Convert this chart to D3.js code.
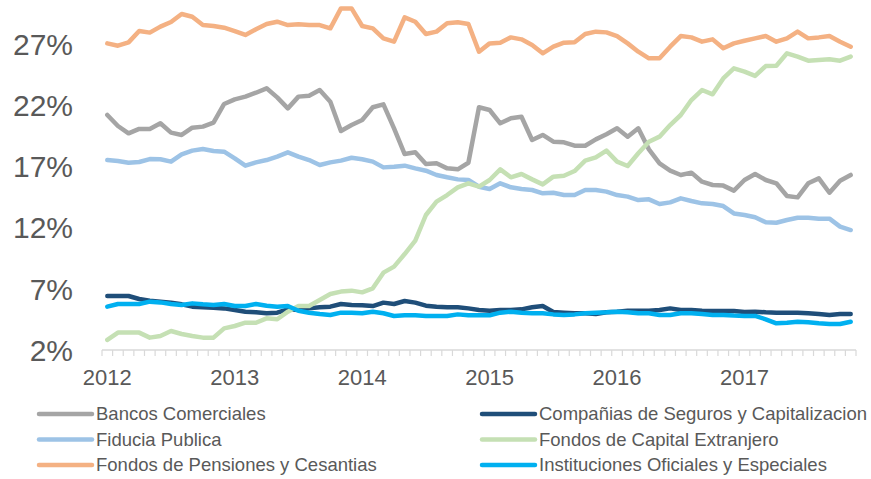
<!DOCTYPE html>
<html>
<head>
<meta charset="utf-8">
<script src="https://cdn.jsdelivr.net/npm/d3@7"></script>
<style>
  body { margin: 0; background: #fff; }
  svg { font-family: "Liberation Sans", Arial, sans-serif; }
</style>
</head>
<body>
<svg id="chart" width="871" height="479"></svg>
<script>
// monthly shares (%), Jan 2012 .. Nov 2017
let years = ["2012", "2013", "2014", "2015", "2016", "2017"];
let yTicks = [2, 7, 12, 17, 22, 27];

let bancos = [21.2, 20.3, 19.7, 20.06, 20.06, 20.52, 19.76, 19.57, 20.16, 20.25, 20.57, 22.1, 22.48, 22.7, 23.02, 23.38, 22.64, 21.74,
    22.7, 22.78, 23.24, 22.29, 19.89, 20.38, 20.79, 21.83, 22.07, 20.11, 18.01, 18.15, 17.2, 17.25, 16.84, 16.76, 17.3, 21.83,
    21.61, 20.52, 20.93, 21.06, 19.16, 19.57, 19.02, 18.97, 18.69, 18.69, 19.21, 19.62, 20.11, 19.43, 20.11, 18.39, 17.25, 16.65,
    16.3, 16.49, 15.75, 15.48, 15.43, 15.02, 15.89, 16.38, 15.89, 15.62, 14.58, 14.47, 15.62, 16.02, 14.85, 15.83, 16.3];
let companias = [6.41, 6.41, 6.41, 6.17, 6.03, 5.95, 5.87, 5.73, 5.54, 5.49, 5.46, 5.4, 5.27, 5.13, 5.08, 5.0, 5.05, 5.32,
    5.27, 5.4, 5.49, 5.54, 5.76, 5.68, 5.65, 5.59, 5.87, 5.76, 6.0, 5.87, 5.62, 5.54, 5.49, 5.49, 5.4, 5.27,
    5.21, 5.27, 5.27, 5.32, 5.49, 5.59, 5.1, 5.05, 5.0, 5.0, 4.94, 5.08, 5.13, 5.21, 5.21, 5.21, 5.27, 5.4,
    5.27, 5.27, 5.21, 5.19, 5.19, 5.19, 5.1, 5.13, 5.08, 5.05, 5.05, 5.05, 5.0, 4.94, 4.86, 4.94, 4.94];
let fiducia = [17.52, 17.44, 17.3, 17.36, 17.6, 17.58, 17.39, 17.99, 18.29, 18.42, 18.26, 18.2, 17.66, 17.06, 17.33, 17.52, 17.8, 18.15,
    17.8, 17.52, 17.11, 17.33, 17.47, 17.71, 17.58, 17.39, 16.92, 16.98, 17.06, 16.84, 16.65, 16.3, 16.11, 15.94, 15.89, 15.34,
    15.15, 15.62, 15.29, 15.15, 15.07, 14.8, 14.85, 14.66, 14.66, 15.07, 15.07, 14.94, 14.66, 14.53, 14.25, 14.31, 13.93, 14.06,
    14.39, 14.17, 13.98, 13.93, 13.76, 13.16, 13.03, 12.84, 12.43, 12.4, 12.62, 12.81, 12.81, 12.73, 12.73, 12.08, 11.8];
let extranjero = [2.82, 3.42, 3.42, 3.42, 3.01, 3.14, 3.55, 3.31, 3.14, 3.01, 3.01, 3.77, 3.96, 4.23, 4.23, 4.59, 4.51, 5.13,
    5.59, 5.59, 6.08, 6.58, 6.77, 6.85, 6.71, 7.04, 8.32, 8.81, 9.84, 10.93, 13.03, 14.12, 14.66, 15.29, 15.62, 15.34,
    15.89, 16.76, 16.11, 16.38, 15.94, 15.53, 16.16, 16.24, 16.62, 17.47, 17.74, 18.29, 17.39, 17.03, 18.07, 19.02, 19.43, 20.38,
    21.2, 22.42, 23.24, 22.89, 24.19, 25.01, 24.74, 24.39, 25.2, 25.23, 26.24, 25.97, 25.64, 25.69, 25.75, 25.64, 25.97];
let pensiones = [27.05, 26.86, 27.13, 28.06, 27.93, 28.42, 28.8, 29.45, 29.23, 28.55, 28.47, 28.33, 28.06, 27.74, 28.2, 28.63, 28.82, 28.55,
    28.61, 28.55, 28.55, 28.28, 29.91, 29.91, 28.47, 28.28, 27.46, 27.19, 29.18, 28.82, 27.82, 28.01, 28.69, 28.77, 28.63, 26.37,
    27.05, 27.11, 27.54, 27.38, 26.92, 26.24, 26.78, 27.11, 27.14, 27.82, 28.01, 27.95, 27.65, 27.05, 26.37, 25.83, 25.83, 26.78,
    27.65, 27.54, 27.19, 27.38, 26.65, 27.05, 27.27, 27.46, 27.65, 27.19, 27.46, 28.01, 27.46, 27.54, 27.65, 27.19, 26.78];
let instituciones = [5.54, 5.76, 5.76, 5.76, 5.95, 5.89, 5.76, 5.68, 5.81, 5.73, 5.68, 5.76, 5.6, 5.6, 5.76, 5.62, 5.54, 5.6,
    5.21, 5.05, 4.94, 4.86, 5.05, 5.05, 5.0, 5.13, 5.0, 4.78, 4.83, 4.83, 4.78, 4.78, 4.78, 4.91, 4.83, 4.83,
    4.83, 5.05, 5.13, 5.05, 5.0, 5.0, 4.91, 4.86, 4.91, 5.0, 5.05, 5.08, 5.13, 5.08, 5.0, 5.0, 4.86, 4.86,
    5.0, 5.0, 4.94, 4.86, 4.86, 4.81, 4.78, 4.78, 4.51, 4.18, 4.23, 4.31, 4.26, 4.18, 4.12, 4.12, 4.31];

let seriesNames = ["Bancos Comerciales", "Compañias de Seguros y Capitalizacion", "Fiducia Publica",
    "Fondos de Capital Extranjero", "Fondos de Pensiones y Cesantias", "Instituciones Oficiales y Especiales"];
let seriesValues = [bancos, companias, fiducia, extranjero, pensiones, instituciones];
let colors = ["#a5a5a5", "#1f4e79", "#9dc3e6", "#c5e0b4", "#f4b183", "#00b0f0"];

let svg = d3.select("#chart");

let months = d3.range(bancos.length);
let x = d3.scaleBand()
    .domain(months)
    .range([102, 856])
    .padding(0);
let y = d3.scaleLinear()
    .domain([2, 27])
    .range([350, 44]);

function xc(i) {
    return x(i) + x.bandwidth() / 2;
}

// y labels (no axis line)
svg.append("g")
    .selectAll("text")
    .data(yTicks)
    .enter().append("text")
    .attr("x", 73)
    .attr("y", d => y(d))
    .attr("dy", "0.36em")
    .attr("text-anchor", "end")
    .style("font-size", "30px")
    .style("fill", "#595959")
    .text(d => d + "%");

// x axis: line + month ticks between categories
let axisG = svg.append("g");
axisG.append("line")
    .attr("x1", x.range()[0])
    .attr("x2", x.range()[1])
    .attr("y1", 350)
    .attr("y2", 350)
    .style("stroke", "#d9d9d9")
    .style("stroke-width", 1.5);
let tickPos = months.map(i => x(i)).concat([x.range()[1]]);
axisG.selectAll(".tick")
    .data(tickPos)
    .enter().append("line")
    .attr("class", "tick")
    .attr("x1", d => d)
    .attr("x2", d => d)
    .attr("y1", 350)
    .attr("y2", 356)
    .style("stroke", "#d9d9d9")
    .style("stroke-width", 1.2);
axisG.selectAll(".year")
    .data(years)
    .enter().append("text")
    .attr("class", "year")
    .attr("x", (d, i) => xc(i * 12))
    .attr("y", 385)
    .attr("text-anchor", "middle")
    .style("font-size", "22px")
    .style("fill", "#595959")
    .text(d => d);

// lines
let line = d3.line()
    .x((d, i) => xc(i))
    .y(d => y(d));

svg.append("g")
    .selectAll("path")
    .data(seriesValues)
    .enter().append("path")
    .attr("d", d => line(d))
    .style("fill", "none")
    .style("stroke", (d, i) => colors[i])
    .style("stroke-width", 4.5)
    .style("stroke-linejoin", "round")
    .style("stroke-linecap", "round");

// legend, two columns, row-major
let legend = svg.append("g");
let item = legend.selectAll("g")
    .data(seriesNames)
    .enter().append("g")
    .attr("transform", (d, i) => "translate(" + (i % 2 === 0 ? 37 : 480) + "," + (414 + Math.floor(i / 2) * 25.5) + ")");
item.append("line")
    .attr("x1", 2)
    .attr("x2", 55)
    .attr("y1", 0)
    .attr("y2", 0)
    .style("stroke", (d, i) => colors[i])
    .style("stroke-width", 4.5)
    .style("stroke-linecap", "round");
item.append("text")
    .attr("x", 59)
    .attr("y", 0)
    .attr("dy", "0.35em")
    .style("font-size", "18.5px")
    .style("fill", "#595959")
    .text(d => d);
</script>
</body>
</html>
